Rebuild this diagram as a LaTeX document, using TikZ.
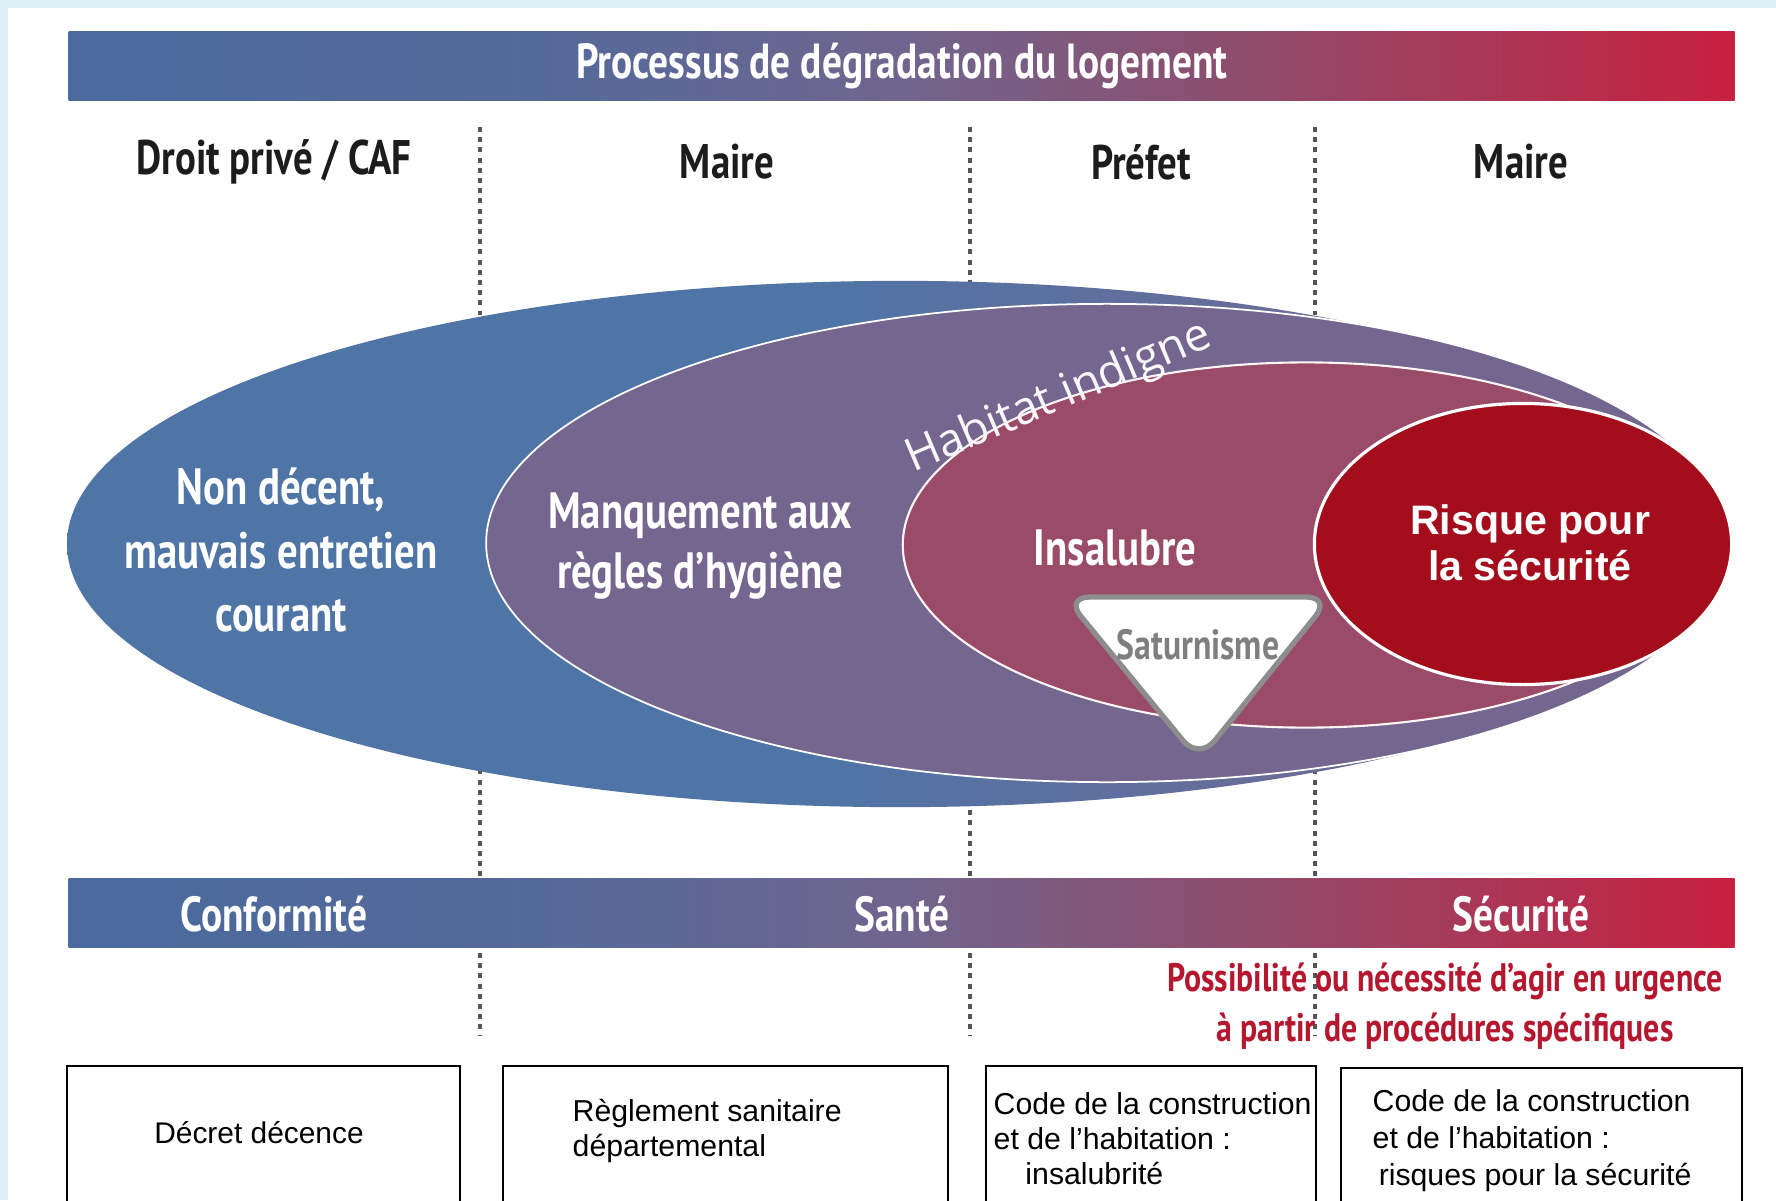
\documentclass[tikz,border=0pt]{standalone}
\usepackage{fontspec}
\setmainfont{Liberation Sans}
\newfontfamily\condfont[FakeStretch=0.8]{PT Sans}
\newfontfamily\softfont{Open Sans}
\usepackage{tikz}
\usetikzlibrary{shapes.geometric}

\definecolor{bgcyan}{HTML}{DCEFF5}
\definecolor{sepgray}{HTML}{555555}
\definecolor{headgray}{HTML}{1C1C1C}
\definecolor{barblue}{HTML}{4A6A9E}
\definecolor{barblue2}{HTML}{566999}
\definecolor{barpurple}{HTML}{70658E}
\definecolor{barmauve}{HTML}{8E4D6D}
\definecolor{barred}{HTML}{C8203F}
\definecolor{outerblue}{HTML}{4F74A6}
\definecolor{outermid}{HTML}{6A6C98}
\definecolor{hygpurple}{HTML}{74668E}
\definecolor{insmauve}{HTML}{9A4B68}
\definecolor{riskred}{HTML}{A30D1C}
\definecolor{trigray}{HTML}{8D8D8D}
\definecolor{urgred}{HTML}{B5172F}

\pgfdeclarehorizontalshading{barshade}{100bp}{color(0bp)=(barblue); color(25bp)=(barblue); color(40bp)=(barblue2); color(50bp)=(barpurple); color(60bp)=(barmauve); color(75bp)=(barred); color(100bp)=(barred)}
\pgfdeclarehorizontalshading{outershade}{100bp}{color(0bp)=(outerblue); color(48bp)=(outerblue); color(62bp)=(outermid); color(100bp)=(outermid)}

\begin{document}
\begin{tikzpicture}[x=0.01cm,y=-0.01cm,
  head node/.style={font=\condfont\bfseries\fontsize{13.8}{16}\selectfont,text=headgray},
  band/.style={minimum width=16.65cm,minimum height=0.69cm,inner sep=0pt,anchor=north west,shading=barshade},
  band label/.style={font=\condfont\bfseries\fontsize{14}{16}\selectfont,text=white},
  ring/.style={ellipse,inner sep=0pt},
  zone label/.style={font=\condfont\bfseries\fontsize{14.5}{18}\selectfont,text=white,align=center},
  law box/.style={draw=black,line width=0.6pt,fill=white,inner sep=0pt,anchor=north west,minimum height=2cm},
  law text/.style={font=\fontsize{8.6}{10}\selectfont,align=left,inner sep=0pt},
  sep line/.style={draw=sepgray,line width=0.9pt,dash pattern=on 1.4pt off 1.5pt}]
  \useasboundingbox (0,0) rectangle (1776,1200);
  \clip (0,0) rectangle (1776,1200);
  \fill[bgcyan] (0,0) rectangle (1776,1200);
  \fill[white] (8,8) rectangle (1776,1200);

  % dotted separators between the actors
  \foreach \x in {480,970,1315}
    \draw[sep line] (\x,127) -- (\x,1036);

  \node[band] (topbar) at (68,31) {};
  \node[band label] (title) at (topbar.center) {Processus de dégradation du logement};

  \node[head node] (droit) at (274,162) {Droit privé / CAF};
  \node[head node] (maire1) at (727,162) {Maire};
  \node[head node] (prefet) at (1141,162) {Préfet};
  \node[head node] (maire2) at (1521,162) {Maire};

  % nested zones
  \node[ring,shading=outershade,minimum width=16.65cm,minimum height=5.26cm] (decent) at (900,544) {};
  \node[ring,fill=hygpurple,draw=white,line width=0.5pt,minimum width=12.41cm,minimum height=4.78cm] (hygiene) at (1107,543) {};
  \node[ring,fill=insmauve,draw=white!85!pink,line width=0.6pt,minimum width=8.06cm,minimum height=3.65cm] (insalubre) at (1306,545) {};
  \node[ring,fill=riskred,draw=white,line width=0.9pt,minimum width=4.17cm,minimum height=2.81cm] (risque) at (1523,544) {};

  \draw[fill=white,draw=trigray,line width=1.5pt,rounded corners=7pt] (1065,597) -- (1331,597) -- (1199,760) -- cycle;
  \node[font=\condfont\bfseries\fontsize{12}{14}\selectfont,text=trigray!90!black] (saturn) at (1198,645) {Saturnisme};

  \node[font=\softfont\fontsize{13}{15}\selectfont,text=white!95!hygpurple,rotate=23] (indigne) at (1059,398) {Habitat indigne};

  \node[zone label] (nondecent) at (281,550) {Non décent,\\mauvais entretien\\courant};
  \node[zone label,font=\condfont\bfseries\fontsize{14.5}{17}\selectfont] (manquement) at (700,546) {Manquement aux\\règles d’hygiène};
  \node[zone label] (insal) at (1115,548) {Insalubre};
  \node[align=center,text=white,font=\bfseries\fontsize{11.7}{13}\selectfont] (securite) at (1530,543) {Risque pour\\la sécurité};

  \node[band] (lowbar) at (68,878) {};
  \node[band label] (conform) at (274,914) {Conformité};
  \node[band label] (sante) at (902,914) {Santé};
  \node[band label] (secu) at (1521,914) {Sécurité};

  \node[align=center,text=urgred,font=\condfont\bfseries\fontsize{11.3}{14.4}\selectfont] (urgence) at (1445,1006) {Possibilité ou nécessité d’agir en urgence\\à partir de procédures spécifiques};

  % legal texts
  \node[law box,minimum width=3.93cm] (box1) at (66,1065) {};
  \node[law box,minimum width=4.45cm] (box2) at (502,1065) {};
  \node[law box,minimum width=3.30cm] (box3) at (985,1065) {};
  \node[law box,minimum width=4.01cm] (box4) at (1340,1067) {};

  \node[law text,font=\fontsize{8.5}{10}\selectfont] (decret) at (259,1133) {Décret décence};
  \node[law text,anchor=west] (rsd) at (572,1131) {Règlement sanitaire\\départemental};
  \node[law text,anchor=west] (cchinsal) at (993,1139) {Code de la construction\\et de l'habitation :\\\hspace*{1.05em}insalubrité};
  \node[law text,anchor=west,font=\fontsize{8.6}{10.5}\selectfont] (cchrisque) at (1372,1141) {Code de la construction\\et de l'habitation :\\\hspace*{0.2em}risques pour la sécurité};
\end{tikzpicture}
\end{document}
